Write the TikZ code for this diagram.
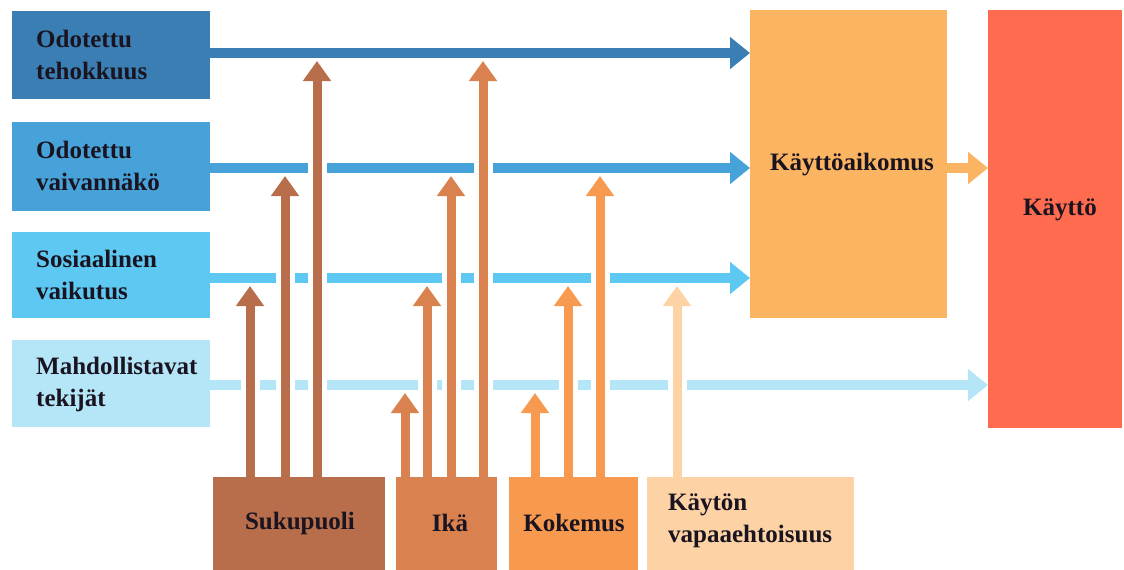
\documentclass[tikz,border=0pt]{standalone}
\usepackage{fontspec}
\setmainfont{Liberation Serif}
\usetikzlibrary{arrows.meta}
\definecolor{c1}{HTML}{3A7EB3}
\definecolor{c2}{HTML}{47A2D9}
\definecolor{c3}{HTML}{5DC9F2}
\definecolor{c4}{HTML}{B4E6F8}
\definecolor{kac}{HTML}{FBB462}
\definecolor{ktc}{HTML}{FF6B4E}
\definecolor{spc}{HTML}{B86E4B}
\definecolor{ikc}{HTML}{DA824F}
\definecolor{koc}{HTML}{F79A4F}
\definecolor{kvc}{HTML}{FDD2A4}
\definecolor{txt}{HTML}{1A1420}
\tikzset{
  box/.style={rectangle, draw=none, inner sep=0pt, anchor=north west},
  lbl/.style={inner sep=0pt, align=left, text=txt, font=\bfseries\fontsize{25}{32}\selectfont},
  harrow/.style={line width=10pt, -{Triangle[width=31pt,length=20pt]}},
  varrow/.style={line width=9pt, -{Triangle[width=27pt,length=20pt]}},
  halo/.style={draw=white, line width=19pt}
}
\begin{document}
\begin{tikzpicture}[x=1pt,y=-1pt]
\useasboundingbox (0,0) rectangle (1124,570);
% left boxes
\node[box, fill=c1, minimum width=198pt, minimum height=88pt] (b1) at (12,11) {};
\node[box, fill=c2, minimum width=198pt, minimum height=89pt] (b2) at (12,122) {};
\node[box, fill=c3, minimum width=198pt, minimum height=86pt] (b3) at (12,232) {};
\node[box, fill=c4, minimum width=198pt, minimum height=87pt] (b4) at (12,340) {};
% right boxes
\node[box, fill=kac, minimum width=197pt, minimum height=308pt] (ka) at (750,10) {};
\node[box, fill=ktc, minimum width=134pt, minimum height=418pt] (kt) at (988,10) {};
% bottom boxes
\node[box, fill=spc, minimum width=172pt, minimum height=93pt] (sp) at (213,477) {};
\node[box, fill=ikc, minimum width=101pt, minimum height=93pt] (ik) at (396,477) {};
\node[box, fill=koc, minimum width=129pt, minimum height=93pt] (ko) at (509,477) {};
\node[box, fill=kvc, minimum width=207pt, minimum height=93pt] (kv) at (647,477) {};
% labels
\node[lbl, anchor=west] (l1) at (36,55) {Odotettu\\tehokkuus};
\node[lbl, anchor=west] (l2) at (36,166) {Odotettu\\vaivannäkö};
\node[lbl, anchor=west] (l3) at (36,275) {Sosiaalinen\\vaikutus};
\node[lbl, anchor=west] (l4) at (36,384) {Mahdollistavat\\tekijät};
\node[lbl] (lka) at (852,165) {Käyttöaikomus};
\node[lbl] (lkt) at (1060,210) {Käyttö};
\node[lbl] (lsp) at (300,523) {Sukupuoli};
\node[lbl] (lik) at (450,523) {Ikä};
\node[lbl] (lko) at (574,523) {Kokemus};
\node[lbl, anchor=west] (lkv) at (668,521) {Käytön\\vapaaehtoisuus};
% row coordinates
\coordinate (r1) at (0,53);
\coordinate (r2) at (0,168);
\coordinate (r3) at (0,278);
\coordinate (r4) at (0,385);
\coordinate (t1) at (0,61);
\coordinate (t2) at (0,176);
\coordinate (t3) at (0,286);
\coordinate (t4) at (0,393);
% horizontal arrows
\draw[harrow, c1] (b1.east |- r1) -- (ka.west |- r1);
\draw[harrow, c2] (b2.east |- r2) -- (ka.west |- r2);
\draw[harrow, c3] (b3.east |- r3) -- (ka.west |- r3);
\draw[harrow, c4] (b4.east |- r4) -- (kt.west |- r4);
\draw[harrow, kac] (ka.east |- r2) -- (kt.west |- r2);
% halos
\foreach \n/\x/\t in {sp/250/t3, sp/285/t2, sp/317/t1,
                      ik/405/t4, ik/427/t3, ik/451/t2, ik/483/t1,
                      ko/535/t4, ko/568/t3, ko/600/t2,
                      kv/677/t3}{
  \draw[halo] (\x,0 |- \n.north) -- (\x,0 |- \t);
}
% vertical arrows
\foreach \x/\t in {250/t3, 285/t2, 317/t1}{
  \draw[varrow, spc] (\x,0 |- sp.north) -- (\x,0 |- \t);
}
\foreach \x/\t in {405/t4, 427/t3, 451/t2, 483/t1}{
  \draw[varrow, ikc] (\x,0 |- ik.north) -- (\x,0 |- \t);
}
\foreach \x/\t in {535/t4, 568/t3, 600/t2}{
  \draw[varrow, koc] (\x,0 |- ko.north) -- (\x,0 |- \t);
}
\draw[varrow, kvc] (677,0 |- kv.north) -- (677,0 |- t3);
\end{tikzpicture}
\end{document}
